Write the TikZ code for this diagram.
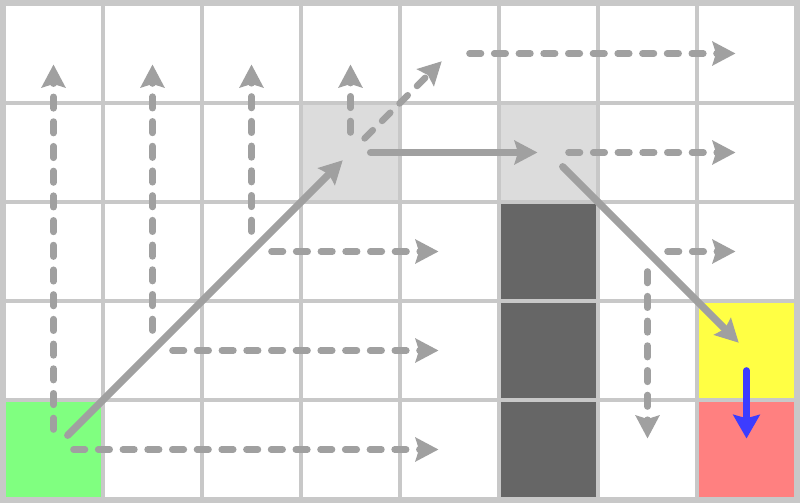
\documentclass[tikz,border=0pt]{standalone}
\usetikzlibrary{arrows.meta}
\definecolor{gridgray}{HTML}{C8C8C8}
\definecolor{startgreen}{HTML}{80FF80}
\definecolor{visitgray}{HTML}{DCDCDC}
\definecolor{wallgray}{HTML}{666666}
\definecolor{goalyellow}{HTML}{FFFF44}
\definecolor{endred}{HTML}{FF8080}
\definecolor{arrowgray}{HTML}{A0A0A0}
\definecolor{pathblue}{HTML}{3C3CFF}
\tikzset{
  cell/.style={draw=none, minimum size=0.9657cm, inner sep=0pt, outer sep=0pt, fill=white},
  tipshape/.style={-{Stealth[length=6.6pt,width=6.8pt,inset=1pt]}},
  move/.style={tipshape, line cap=round, shorten <=0.202cm, shorten >=0.111cm},
  solidmove/.style={move, draw=arrowgray, line width=2.05pt},
  dashmove/.style={move, draw=arrowgray, line width=1.9pt, dash pattern=on 3.3pt off 3.8pt},
  bluemove/.style={move, draw=pathblue, line width=1.9pt, -{Stealth[length=6.8pt,width=7.6pt,inset=1pt]}}
}
\begin{document}
\begin{tikzpicture}
\useasboundingbox (-0.0404,0.0404) rectangle (8.0404,-5.0404);
\fill[gridgray] (-0.0404,0.0404) rectangle (8.0404,-5.0404);
\foreach \c in {0,...,7}{
  \foreach \r in {0,...,4}{
    \node[cell] (c-\c-\r) at (\c+0.5,-\r-0.5) {};
  }
}
% coloured cells
\node[cell, fill=startgreen] at (c-0-4) {};
\node[cell, fill=visitgray] at (c-3-1) {};
\node[cell, fill=visitgray] at (c-5-1) {};
\node[cell, fill=wallgray] at (c-5-2) {};
\node[cell, fill=wallgray] at (c-5-3) {};
\node[cell, fill=wallgray] at (c-5-4) {};
\node[cell, fill=goalyellow] at (c-7-3) {};
\node[cell, fill=endred] at (c-7-4) {};
% dashed explorations
\draw[dashmove] (c-0-4.center) -- (c-0-0.center);
\draw[dashmove] (c-0-4.center) -- (c-4-4.center);
\draw[dashmove] (c-1-3.center) -- (c-1-0.center);
\draw[dashmove] (c-1-3.center) -- (c-4-3.center);
\draw[dashmove] (c-2-2.center) -- (c-2-0.center);
\draw[dashmove] (c-2-2.center) -- (c-4-2.center);
\draw[dashmove] (c-3-1.center) -- (c-3-0.center);
\draw[dashmove] (c-3-1.center) -- (c-4-0.center);
\draw[dashmove] (c-4-0.center) -- (c-7-0.center);
\draw[dashmove] (c-5-1.center) -- (c-7-1.center);
\draw[dashmove] (c-6-2.center) -- (c-7-2.center);
\draw[dashmove] (c-6-2.center) -- (c-6-4.center);
% solid path
\draw[solidmove] (c-0-4.center) -- (c-3-1.center);
\draw[solidmove] (c-3-1.center) -- (c-5-1.center);
\draw[solidmove] (c-5-1.center) -- (c-7-3.center);
\draw[bluemove] (c-7-3.center) -- (c-7-4.center);
\end{tikzpicture}
\end{document}
